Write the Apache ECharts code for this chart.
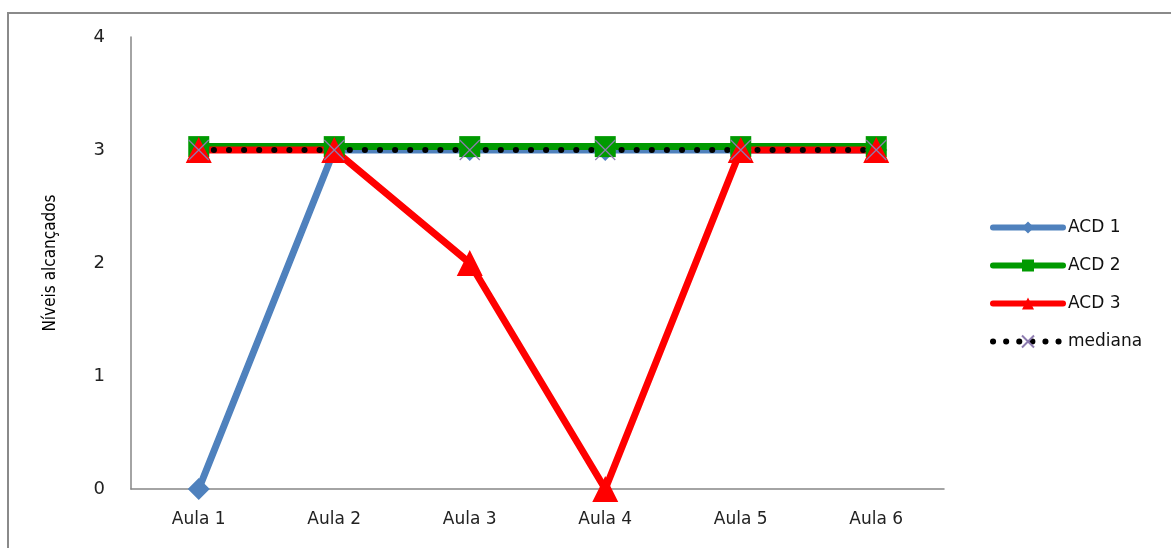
<!DOCTYPE html>
<html>
<head>
<meta charset="utf-8">
<script src="https://cdn.jsdelivr.net/npm/echarts@6/dist/echarts.min.js"></script>
<style>
  html, body { margin: 0; padding: 0; background: #fff; }
  #frame { position: absolute; left: 7px; top: 12px; width: 1170px; height: 560px; border: 2px solid #8a8a8a; box-sizing: border-box; }
  #chart { position: absolute; left: 0; top: 0; width: 1171px; height: 548px; }
</style>
</head>
<body>
<div id="frame"></div>
<div id="chart"></div>
<script>
// Lessons on the horizontal axis
const categories = ['Aula 1', 'Aula 2', 'Aula 3', 'Aula 4', 'Aula 5', 'Aula 6'];
// Levels reached per activity
const acd1 = [0, 3, 3, 3, 3, 3];
const acd2 = [3.03, 3.03, 3.03, 3.03, 3.03, 3.03];
const acd3 = [3, 3, 2, 0, 3, 3];
const mediana = [3, 3, 3, 3, 3, 3];
const yTicks = [0, 1, 2, 3, 4];

const font = "'DejaVu Sans', sans-serif";
const xPath = 'path://M0,0 L10,10 M10,0 L0,10';

const BLUE = '#4f81bd', GREEN = '#009a00', RED = '#ff0000';
const dotted = { color: '#000', width: 6, type: [0.1, 15], cap: 'round' };

const chart = echarts.init(document.getElementById('chart'));
chart.setOption({
  animation: false,
  grid: { left: 131, right: 227, top: 37, bottom: 59 },
  legend: {
    orient: 'vertical',
    left: 990,
    top: 219,
    padding: 0,
    itemWidth: 70,
    itemHeight: 15,
    itemGap: 21,
    textStyle: { fontFamily: font, fontSize: 17, color: '#111' },
    data: [
      { name: 'ACD 1', lineStyle: { width: 6, color: BLUE, cap: 'round' } },
      { name: 'ACD 2', lineStyle: { width: 6, color: GREEN, cap: 'round' } },
      { name: 'ACD 3', lineStyle: { width: 6, color: RED, cap: 'round' } },
      { name: 'mediana', lineStyle: { color: '#000', width: 6, type: [0.1, 13], cap: 'round' } }
    ]
  },
  xAxis: {
    type: 'category',
    data: categories,
    boundaryGap: true,
    axisLine: { lineStyle: { color: '#868686', width: 1.5 } },
    axisTick: { show: false },
    axisLabel: { fontFamily: font, fontSize: 17, color: '#222', margin: 22 }
  },
  yAxis: {
    type: 'value',
    min: yTicks[0],
    max: yTicks[yTicks.length - 1],
    interval: 1,
    name: 'Níveis alcançados',
    nameLocation: 'middle',
    nameGap: 72,
    nameTextStyle: { fontFamily: "'DejaVu Sans Condensed', 'Liberation Sans Narrow', sans-serif", fontSize: 17, color: '#000' },
    axisLine: { show: true, lineStyle: { color: '#868686', width: 1.5 } },
    axisTick: { show: false },
    splitLine: { show: false },
    axisLabel: { fontFamily: font, fontSize: 18, color: '#222', margin: 26 }
  },
  series: [
    {
      name: 'ACD 1', type: 'line', data: acd1,
      symbol: 'diamond', symbolSize: 22,
      itemStyle: { color: BLUE },
      lineStyle: { color: BLUE, width: 7, cap: 'round' }
    },
    {
      name: 'ACD 2', type: 'line', data: acd2,
      symbol: 'rect', symbolSize: 21,
      itemStyle: { color: GREEN },
      lineStyle: { color: GREEN, width: 7, cap: 'round' }
    },
    {
      name: 'ACD 3', type: 'line', data: acd3,
      symbol: 'triangle', symbolSize: 26,
      itemStyle: { color: RED },
      lineStyle: { color: RED, width: 7, cap: 'round' }
    },
    {
      name: 'mediana', type: 'line', data: mediana,
      symbol: xPath, symbolSize: 20,
      itemStyle: { color: 'rgba(0,0,0,0)', borderColor: '#8d7cb0', borderWidth: 1.2 },
      lineStyle: dotted
    }
  ]
});
</script>
</body>
</html>
